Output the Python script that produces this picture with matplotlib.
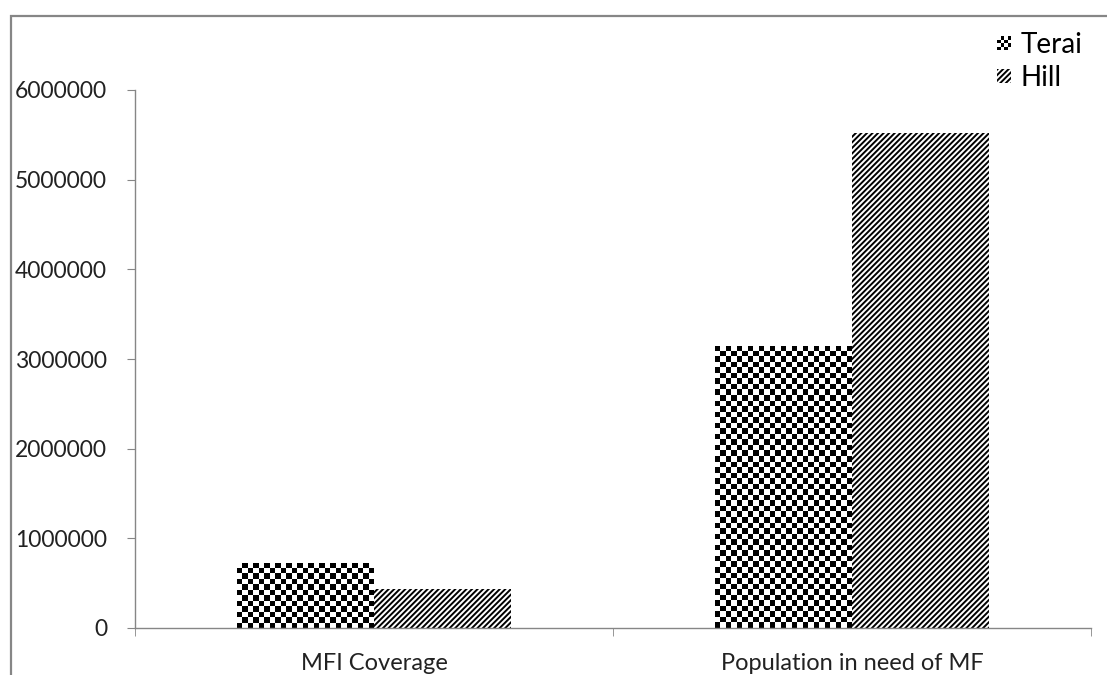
import numpy as np
import matplotlib
matplotlib.use("Agg")
import matplotlib.pyplot as plt
from matplotlib.patches import Rectangle
from matplotlib.legend_handler import HandlerBase

categories = ["MFI Coverage", "Population in need of MF"]
series_names = ["Terai", "Hill"]
terai = [725000, 3150000]
hill = [435000, 5520000]
yticks = [0, 1000000, 2000000, 3000000, 4000000, 5000000, 6000000]

plt.rcParams["font.family"] = ["Lato", "DejaVu Sans"]
plt.rcParams["hatch.linewidth"] = 1.4
plt.rcParams["hatch.color"] = "black"

W, H = 1107, 675
fig = plt.figure(figsize=(W / 100, H / 100), dpi=100)
ax = fig.add_axes([135 / W, (H - 628) / H, (1091 - 135) / W, (628 - 90) / H])

x = np.arange(len(categories))
bw = 0.2866
ax.set_xlim(-0.5, len(categories) - 0.5)
ax.set_ylim(0, 6000000)

grey = "#868686"
CELL = 5.5  # checker cell in pixels


def checker_fill(bar):
    x0, y0 = bar.get_x(), bar.get_y()
    w, h = bar.get_width(), bar.get_height()
    p0 = ax.transData.transform((x0, y0))
    p1 = ax.transData.transform((x0 + w, y0 + h))
    nc = max(1, int(round((p1[0] - p0[0]) / CELL)))
    nr = max(1, int(round((p1[1] - p0[1]) / CELL)))
    ii, jj = np.indices((nr, nc))
    pat = ((ii + jj) % 2).astype(float)
    im = ax.imshow(pat, cmap="gray", extent=(x0, x0 + w, y0, y0 + h),
                   origin="lower", interpolation="nearest", aspect="auto",
                   zorder=2, vmin=0, vmax=1)
    im.set_clip_path(bar)


bars_t = ax.bar(x - bw / 2, terai, bw, color="white", edgecolor="none", zorder=1)
for b in bars_t:
    checker_fill(b)
bars_h = ax.bar(x + bw / 2, hill, bw, color="white", edgecolor="black",
                linewidth=0, hatch="//////", zorder=2)
ax.set_xlim(-0.5, len(categories) - 0.5)
ax.set_ylim(0, 6000000)

for s in ["top", "right"]:
    ax.spines[s].set_visible(False)
for s in ["left", "bottom"]:
    ax.spines[s].set_color(grey)
    ax.spines[s].set_linewidth(1.0)
    ax.spines[s].set_zorder(3)

ax.set_yticks(yticks)
ax.set_yticklabels([str(v) for v in yticks], fontsize=16.5, color="#222222")
ax.tick_params(axis="y", length=6, color=grey, pad=14)

ax.set_xticks(x)
ax.set_xticklabels(categories, fontsize=17, color="#222222")
ax.set_xticks(np.arange(-0.5, len(categories)), minor=True)
ax.tick_params(axis="x", which="major", length=0, pad=18)
ax.tick_params(axis="x", which="minor", length=6, color=grey)


class HandlerChecker(HandlerBase):
    def create_artists(self, legend, orig_handle, xdescent, ydescent,
                       width, height, fontsize, trans):
        s = min(width, height)
        n = 4
        c = s / n
        x0 = -xdescent + (width - s)
        y0 = -ydescent + (height - s) / 2
        arts = []
        for i in range(n):
            for j in range(n):
                if (i + j) % 2 == 0:
                    arts.append(Rectangle((x0 + j * c, y0 + i * c), c, c,
                                          facecolor="black", edgecolor="none",
                                          transform=trans))
        return arts


class HandlerHatch(HandlerBase):
    def create_artists(self, legend, orig_handle, xdescent, ydescent,
                       width, height, fontsize, trans):
        s = min(width, height)
        r = Rectangle((-xdescent + (width - s), -ydescent + (height - s) / 2), s, s,
                      facecolor="white", edgecolor="black", linewidth=0,
                      hatch="//////", transform=trans)
        return [r]


h_t = Rectangle((0, 0), 1, 1)
h_h = Rectangle((0, 0), 1, 1, hatch="//////")
leg = fig.legend([h_t, h_h], series_names, loc="upper left",
                 bbox_to_anchor=(986 / W, 1 - 21 / H), frameon=False,
                 fontsize=20, handlelength=0.5, handleheight=0.5,
                 handletextpad=0.35, labelspacing=0.25, borderaxespad=0,
                 handler_map={h_t: HandlerChecker(), h_h: HandlerHatch()})

fig.add_artist(Rectangle((11 / W, -0.5), 1.5, 1.5 - 16 / H + 0.0,
                         transform=fig.transFigure, fill=False,
                         edgecolor=grey, linewidth=1.6))

fig.savefig("out.png", dpi=100)
